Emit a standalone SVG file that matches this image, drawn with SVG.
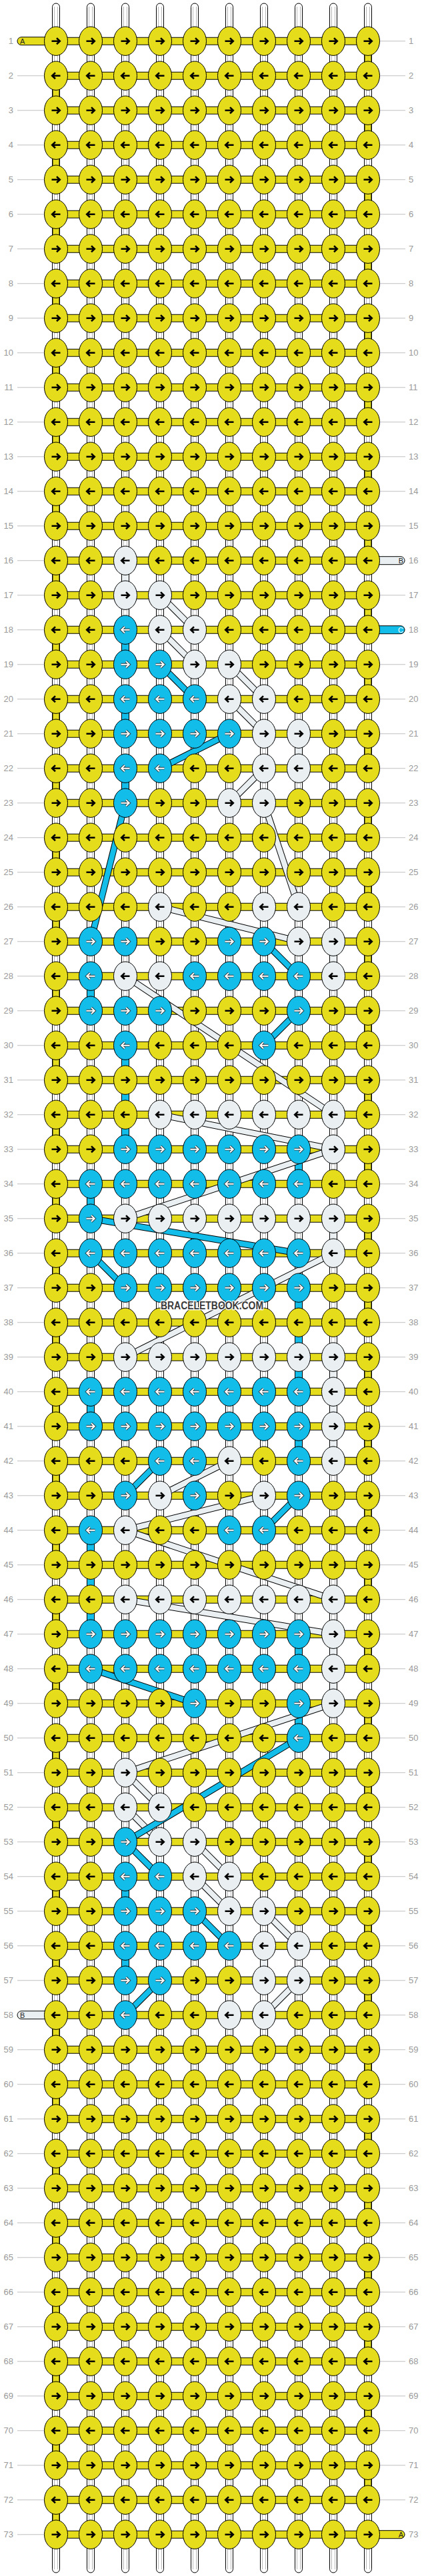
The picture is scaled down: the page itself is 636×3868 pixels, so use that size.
<svg xmlns="http://www.w3.org/2000/svg" width="636" height="3868" viewBox="0 0 636 3868">
<style>
.ky{fill:#e5dc1b;stroke:#000;stroke-width:1}
.kw{fill:#eaf0f2;stroke:#000;stroke-width:1}
.kb{fill:#12bde9;stroke:#000;stroke-width:1}
.ad{stroke:#000;stroke-width:2.6}
.ao{stroke:#2a3a40;stroke-width:3.8}
.aw{stroke:#fff;stroke-width:2}
.wp{fill:#fff;stroke:#000;stroke-width:1}
.wl{fill:none;stroke:#b8b8b8;stroke-width:1}
.cb{fill:#12bde9;stroke:#000;stroke-width:1}
.cw{fill:#eaf0f2;stroke:#000;stroke-width:1}
.do{stroke:#000;stroke-width:10}
.db{stroke:#12bde9;stroke-width:8}
.dw{stroke:#eaf0f2;stroke-width:8}
.n{font-family:"Liberation Sans",Arial,sans-serif;font-size:13px;fill:#9a9a9a}
.nl{text-anchor:end}
.t{font-family:"Liberation Sans",Arial,sans-serif;font-size:11px;fill:#222}
</style>
<defs>
<path id="ar" fill="none" d="M-6.5,0H5.5M1,-4.6L5.8,0L1,4.6"/>
<path id="al" fill="none" d="M6.5,0H-5.5M-1,-4.6L-5.8,0L-1,4.6"/>
<g id="YR"><ellipse class="ky" rx="17.5" ry="21.7"/><use href="#ar" class="ad"/></g>
<g id="YL"><ellipse class="ky" rx="17.5" ry="21.7"/><use href="#al" class="ad"/></g>
<g id="WR"><ellipse class="kw" rx="17.5" ry="21.7"/><use href="#ar" class="ad"/></g>
<g id="WL"><ellipse class="kw" rx="17.5" ry="21.7"/><use href="#al" class="ad"/></g>
<g id="BR"><ellipse class="kb" rx="17.5" ry="21.7"/><use href="#ar" class="ao"/><use href="#ar" class="aw"/></g>
<g id="BL"><ellipse class="kb" rx="17.5" ry="21.7"/><use href="#al" class="ao"/><use href="#al" class="aw"/></g>
<rect id="vb" class="cb" x="-5.5" y="15" width="11" height="22"/>
<rect id="vw" class="cw" x="-5.5" y="15" width="11" height="22"/>
</defs>
<rect width="636" height="3868" fill="#fff"/>
<g id="warps">
<rect class="wp" x="78.5" y="5" width="11" height="3858" rx="5.5"/>
<rect class="wp" x="130.5" y="5" width="11" height="3858" rx="5.5"/>
<rect class="wp" x="182.5" y="5" width="11" height="3858" rx="5.5"/>
<rect class="wp" x="234.5" y="5" width="11" height="3858" rx="5.5"/>
<rect class="wp" x="286.5" y="5" width="11" height="3858" rx="5.5"/>
<rect class="wp" x="338.5" y="5" width="11" height="3858" rx="5.5"/>
<rect class="wp" x="390.5" y="5" width="11" height="3858" rx="5.5"/>
<rect class="wp" x="442.5" y="5" width="11" height="3858" rx="5.5"/>
<rect class="wp" x="494.5" y="5" width="11" height="3858" rx="5.5"/>
<rect class="wp" x="546.5" y="5" width="11" height="3858" rx="5.5"/>
<path class="wl" d="M81.5,10V3858M86.5,10V3858M133.5,10V3858M138.5,10V3858M185.5,10V3858M190.5,10V3858M237.5,10V3858M242.5,10V3858M289.5,10V3858M294.5,10V3858M341.5,10V3858M346.5,10V3858M393.5,10V3858M398.5,10V3858M445.5,10V3858M450.5,10V3858M497.5,10V3858M502.5,10V3858M549.5,10V3858M554.5,10V3858"/>
</g>
<g id="connectors">
<path d="M552,61.7V3753.7" fill="none" stroke="#000" stroke-width="11" stroke-dasharray="52 52"/>
<path d="M552,61.7V3753.7" fill="none" stroke="#e5dc1b" stroke-width="9" stroke-dasharray="52 52"/>
<path d="M84,113.7V3805.7" fill="none" stroke="#000" stroke-width="11" stroke-dasharray="52 52"/>
<path d="M84,113.7V3805.7" fill="none" stroke="#e5dc1b" stroke-width="9" stroke-dasharray="52 52"/>
<use href="#vw" x="188" y="841.7"/><use href="#vw" x="448" y="1101.7"/><use href="#vw" x="500" y="1413.7"/><use href="#vw" x="500" y="1829.7"/><use href="#vw" x="500" y="2037.7"/><use href="#vw" x="500" y="2089.7"/><use href="#vw" x="500" y="2141.7"/><use href="#vw" x="500" y="2453.7"/><use href="#vw" x="500" y="2505.7"/><use href="#vw" x="396" y="2921.7"/>
<use href="#vb" x="188" y="945.7"/><use href="#vb" x="188" y="1049.7"/><use href="#vb" x="188" y="1153.7"/><use href="#vb" x="136" y="1465.7"/><use href="#vb" x="188" y="1569.7"/><use href="#vb" x="188" y="1621.7"/><use href="#vb" x="188" y="1673.7"/><use href="#vb" x="448" y="1725.7"/><use href="#vb" x="136" y="1777.7"/><use href="#vb" x="448" y="1933.7"/><use href="#vb" x="448" y="1985.7"/><use href="#vb" x="448" y="2037.7"/><use href="#vb" x="136" y="2089.7"/><use href="#vb" x="448" y="2141.7"/><use href="#vb" x="136" y="2297.7"/><use href="#vb" x="136" y="2349.7"/><use href="#vb" x="136" y="2401.7"/><use href="#vb" x="448" y="2453.7"/><use href="#vb" x="448" y="2557.7"/><use href="#vb" x="188" y="2817.7"/><use href="#vb" x="188" y="2921.7"/>
<path d="M46.25,61.2V3806.2" fill="none" stroke="#c0c0c0" stroke-width="40.5" stroke-dasharray="1 51"/>
<path d="M588.75,61.2V3806.2" fill="none" stroke="#c0c0c0" stroke-width="38.5" stroke-dasharray="1 51"/>
<path d="M318,55.7V3812" fill="none" stroke="#000" stroke-width="468" stroke-dasharray="12 40"/>
<path d="M318,56.7V3812" fill="none" stroke="#e5dc1b" stroke-width="468" stroke-dasharray="10 42"/>
<path d="M70,55.7H32a6,6 0 0 0 0,12H70z" class="ky"/>
<path d="M70,3019.7H32a6,6 0 0 0 0,12H70z" class="kw"/>
<path d="M548,835.7H601a6,6 0 0 1 0,12H548z" class="kw"/>
<path d="M548,939.7H601a6,6 0 0 1 0,12H548z" class="kb"/>
<path d="M548,3799.7H601a6,6 0 0 1 0,12H548z" class="ky"/>
<g id="diagonals">
<line class="do" x1="240" y1="893.7" x2="292" y2="945.7"/><line class="dw" x1="240" y1="893.7" x2="292" y2="945.7"/>
<line class="do" x1="240" y1="945.7" x2="292" y2="997.7"/><line class="dw" x1="240" y1="945.7" x2="292" y2="997.7"/>
<line class="do" x1="344" y1="997.7" x2="396" y2="1049.7"/><line class="dw" x1="344" y1="997.7" x2="396" y2="1049.7"/>
<line class="do" x1="344" y1="1049.7" x2="396" y2="1101.7"/><line class="dw" x1="344" y1="1049.7" x2="396" y2="1101.7"/>
<line class="do" x1="396" y1="1153.7" x2="344" y2="1205.7"/><line class="dw" x1="396" y1="1153.7" x2="344" y2="1205.7"/>
<line class="do" x1="396" y1="1205.7" x2="448" y2="1361.7"/><line class="dw" x1="396" y1="1205.7" x2="448" y2="1361.7"/>
<line class="do" x1="240" y1="1361.7" x2="448" y2="1413.7"/><line class="dw" x1="240" y1="1361.7" x2="448" y2="1413.7"/>
<line class="do" x1="188" y1="1465.7" x2="500" y2="1673.7"/><line class="dw" x1="188" y1="1465.7" x2="500" y2="1673.7"/>
<line class="do" x1="240" y1="1673.7" x2="500" y2="1725.7"/><line class="dw" x1="240" y1="1673.7" x2="500" y2="1725.7"/>
<line class="do" x1="500" y1="1725.7" x2="188" y2="1829.7"/><line class="dw" x1="500" y1="1725.7" x2="188" y2="1829.7"/>
<line class="do" x1="500" y1="1881.7" x2="188" y2="2037.7"/><line class="dw" x1="500" y1="1881.7" x2="188" y2="2037.7"/>
<line class="do" x1="344" y1="2193.7" x2="240" y2="2245.7"/><line class="dw" x1="344" y1="2193.7" x2="240" y2="2245.7"/>
<line class="do" x1="396" y1="2245.7" x2="188" y2="2297.7"/><line class="dw" x1="396" y1="2245.7" x2="188" y2="2297.7"/>
<line class="do" x1="188" y1="2297.7" x2="500" y2="2401.7"/><line class="dw" x1="188" y1="2297.7" x2="500" y2="2401.7"/>
<line class="do" x1="188" y1="2401.7" x2="500" y2="2453.7"/><line class="dw" x1="188" y1="2401.7" x2="500" y2="2453.7"/>
<line class="do" x1="500" y1="2557.7" x2="188" y2="2661.7"/><line class="dw" x1="500" y1="2557.7" x2="188" y2="2661.7"/>
<line class="do" x1="188" y1="2661.7" x2="240" y2="2713.7"/><line class="dw" x1="188" y1="2661.7" x2="240" y2="2713.7"/>
<line class="do" x1="188" y1="2713.7" x2="240" y2="2765.7"/><line class="dw" x1="188" y1="2713.7" x2="240" y2="2765.7"/>
<line class="do" x1="292" y1="2765.7" x2="344" y2="2817.7"/><line class="dw" x1="292" y1="2765.7" x2="344" y2="2817.7"/>
<line class="do" x1="292" y1="2817.7" x2="344" y2="2869.7"/><line class="dw" x1="292" y1="2817.7" x2="344" y2="2869.7"/>
<line class="do" x1="396" y1="2869.7" x2="448" y2="2921.7"/><line class="dw" x1="396" y1="2869.7" x2="448" y2="2921.7"/>
<line class="do" x1="448" y1="2973.7" x2="396" y2="3025.7"/><line class="dw" x1="448" y1="2973.7" x2="396" y2="3025.7"/>
<line class="do" x1="240" y1="997.7" x2="292" y2="1049.7"/><line class="db" x1="240" y1="997.7" x2="292" y2="1049.7"/>
<line class="do" x1="344" y1="1101.7" x2="240" y2="1153.7"/><line class="db" x1="344" y1="1101.7" x2="240" y2="1153.7"/>
<line class="do" x1="188" y1="1205.7" x2="136" y2="1413.7"/><line class="db" x1="188" y1="1205.7" x2="136" y2="1413.7"/>
<line class="do" x1="396" y1="1413.7" x2="448" y2="1465.7"/><line class="db" x1="396" y1="1413.7" x2="448" y2="1465.7"/>
<line class="do" x1="448" y1="1517.7" x2="396" y2="1569.7"/><line class="db" x1="448" y1="1517.7" x2="396" y2="1569.7"/>
<line class="do" x1="136" y1="1829.7" x2="448" y2="1881.7"/><line class="db" x1="136" y1="1829.7" x2="448" y2="1881.7"/>
<line class="do" x1="136" y1="1881.7" x2="188" y2="1933.7"/><line class="db" x1="136" y1="1881.7" x2="188" y2="1933.7"/>
<line class="do" x1="240" y1="2193.7" x2="188" y2="2245.7"/><line class="db" x1="240" y1="2193.7" x2="188" y2="2245.7"/>
<line class="do" x1="448" y1="2245.7" x2="396" y2="2297.7"/><line class="db" x1="448" y1="2245.7" x2="396" y2="2297.7"/>
<line class="do" x1="136" y1="2505.7" x2="292" y2="2557.7"/><line class="db" x1="136" y1="2505.7" x2="292" y2="2557.7"/>
<line class="do" x1="448" y1="2609.7" x2="188" y2="2765.7"/><line class="db" x1="448" y1="2609.7" x2="188" y2="2765.7"/>
<line class="do" x1="188" y1="2765.7" x2="240" y2="2817.7"/><line class="db" x1="188" y1="2765.7" x2="240" y2="2817.7"/>
<line class="do" x1="292" y1="2869.7" x2="344" y2="2921.7"/><line class="db" x1="292" y1="2869.7" x2="344" y2="2921.7"/>
<line class="do" x1="240" y1="2973.7" x2="188" y2="3025.7"/><line class="db" x1="240" y1="2973.7" x2="188" y2="3025.7"/>
</g>
</g>
<g id="knots">
<g id="r1" transform="translate(0,61.7)"><use id="k1_1" href="#YR" x="84"/><use id="k1_2" href="#YR" x="136"/><use id="k1_3" href="#YR" x="188"/><use id="k1_4" href="#YR" x="240"/><use id="k1_5" href="#YR" x="292"/><use id="k1_6" href="#YR" x="344"/><use id="k1_7" href="#YR" x="396"/><use id="k1_8" href="#YR" x="448"/><use id="k1_9" href="#YR" x="500"/><use id="k1_10" href="#YR" x="552"/><text class="n nl" x="20" y="4.5">1</text><text class="n" x="613" y="4.5">1</text></g>
<g id="r2" transform="translate(0,113.7)"><use id="k2_1" href="#YL" x="84"/><use id="k2_2" href="#YL" x="136"/><use id="k2_3" href="#YL" x="188"/><use id="k2_4" href="#YL" x="240"/><use id="k2_5" href="#YL" x="292"/><use id="k2_6" href="#YL" x="344"/><use id="k2_7" href="#YL" x="396"/><use id="k2_8" href="#YL" x="448"/><use id="k2_9" href="#YL" x="500"/><use id="k2_10" href="#YL" x="552"/><text class="n nl" x="20" y="4.5">2</text><text class="n" x="613" y="4.5">2</text></g>
<g id="r3" transform="translate(0,165.7)"><use id="k3_1" href="#YR" x="84"/><use id="k3_2" href="#YR" x="136"/><use id="k3_3" href="#YR" x="188"/><use id="k3_4" href="#YR" x="240"/><use id="k3_5" href="#YR" x="292"/><use id="k3_6" href="#YR" x="344"/><use id="k3_7" href="#YR" x="396"/><use id="k3_8" href="#YR" x="448"/><use id="k3_9" href="#YR" x="500"/><use id="k3_10" href="#YR" x="552"/><text class="n nl" x="20" y="4.5">3</text><text class="n" x="613" y="4.5">3</text></g>
<g id="r4" transform="translate(0,217.7)"><use id="k4_1" href="#YL" x="84"/><use id="k4_2" href="#YL" x="136"/><use id="k4_3" href="#YL" x="188"/><use id="k4_4" href="#YL" x="240"/><use id="k4_5" href="#YL" x="292"/><use id="k4_6" href="#YL" x="344"/><use id="k4_7" href="#YL" x="396"/><use id="k4_8" href="#YL" x="448"/><use id="k4_9" href="#YL" x="500"/><use id="k4_10" href="#YL" x="552"/><text class="n nl" x="20" y="4.5">4</text><text class="n" x="613" y="4.5">4</text></g>
<g id="r5" transform="translate(0,269.7)"><use id="k5_1" href="#YR" x="84"/><use id="k5_2" href="#YR" x="136"/><use id="k5_3" href="#YR" x="188"/><use id="k5_4" href="#YR" x="240"/><use id="k5_5" href="#YR" x="292"/><use id="k5_6" href="#YR" x="344"/><use id="k5_7" href="#YR" x="396"/><use id="k5_8" href="#YR" x="448"/><use id="k5_9" href="#YR" x="500"/><use id="k5_10" href="#YR" x="552"/><text class="n nl" x="20" y="4.5">5</text><text class="n" x="613" y="4.5">5</text></g>
<g id="r6" transform="translate(0,321.7)"><use id="k6_1" href="#YL" x="84"/><use id="k6_2" href="#YL" x="136"/><use id="k6_3" href="#YL" x="188"/><use id="k6_4" href="#YL" x="240"/><use id="k6_5" href="#YL" x="292"/><use id="k6_6" href="#YL" x="344"/><use id="k6_7" href="#YL" x="396"/><use id="k6_8" href="#YL" x="448"/><use id="k6_9" href="#YL" x="500"/><use id="k6_10" href="#YL" x="552"/><text class="n nl" x="20" y="4.5">6</text><text class="n" x="613" y="4.5">6</text></g>
<g id="r7" transform="translate(0,373.7)"><use id="k7_1" href="#YR" x="84"/><use id="k7_2" href="#YR" x="136"/><use id="k7_3" href="#YR" x="188"/><use id="k7_4" href="#YR" x="240"/><use id="k7_5" href="#YR" x="292"/><use id="k7_6" href="#YR" x="344"/><use id="k7_7" href="#YR" x="396"/><use id="k7_8" href="#YR" x="448"/><use id="k7_9" href="#YR" x="500"/><use id="k7_10" href="#YR" x="552"/><text class="n nl" x="20" y="4.5">7</text><text class="n" x="613" y="4.5">7</text></g>
<g id="r8" transform="translate(0,425.7)"><use id="k8_1" href="#YL" x="84"/><use id="k8_2" href="#YL" x="136"/><use id="k8_3" href="#YL" x="188"/><use id="k8_4" href="#YL" x="240"/><use id="k8_5" href="#YL" x="292"/><use id="k8_6" href="#YL" x="344"/><use id="k8_7" href="#YL" x="396"/><use id="k8_8" href="#YL" x="448"/><use id="k8_9" href="#YL" x="500"/><use id="k8_10" href="#YL" x="552"/><text class="n nl" x="20" y="4.5">8</text><text class="n" x="613" y="4.5">8</text></g>
<g id="r9" transform="translate(0,477.7)"><use id="k9_1" href="#YR" x="84"/><use id="k9_2" href="#YR" x="136"/><use id="k9_3" href="#YR" x="188"/><use id="k9_4" href="#YR" x="240"/><use id="k9_5" href="#YR" x="292"/><use id="k9_6" href="#YR" x="344"/><use id="k9_7" href="#YR" x="396"/><use id="k9_8" href="#YR" x="448"/><use id="k9_9" href="#YR" x="500"/><use id="k9_10" href="#YR" x="552"/><text class="n nl" x="20" y="4.5">9</text><text class="n" x="613" y="4.5">9</text></g>
<g id="r10" transform="translate(0,529.7)"><use id="k10_1" href="#YL" x="84"/><use id="k10_2" href="#YL" x="136"/><use id="k10_3" href="#YL" x="188"/><use id="k10_4" href="#YL" x="240"/><use id="k10_5" href="#YL" x="292"/><use id="k10_6" href="#YL" x="344"/><use id="k10_7" href="#YL" x="396"/><use id="k10_8" href="#YL" x="448"/><use id="k10_9" href="#YL" x="500"/><use id="k10_10" href="#YL" x="552"/><text class="n nl" x="20" y="4.5">10</text><text class="n" x="613" y="4.5">10</text></g>
<g id="r11" transform="translate(0,581.7)"><use id="k11_1" href="#YR" x="84"/><use id="k11_2" href="#YR" x="136"/><use id="k11_3" href="#YR" x="188"/><use id="k11_4" href="#YR" x="240"/><use id="k11_5" href="#YR" x="292"/><use id="k11_6" href="#YR" x="344"/><use id="k11_7" href="#YR" x="396"/><use id="k11_8" href="#YR" x="448"/><use id="k11_9" href="#YR" x="500"/><use id="k11_10" href="#YR" x="552"/><text class="n nl" x="20" y="4.5">11</text><text class="n" x="613" y="4.5">11</text></g>
<g id="r12" transform="translate(0,633.7)"><use id="k12_1" href="#YL" x="84"/><use id="k12_2" href="#YL" x="136"/><use id="k12_3" href="#YL" x="188"/><use id="k12_4" href="#YL" x="240"/><use id="k12_5" href="#YL" x="292"/><use id="k12_6" href="#YL" x="344"/><use id="k12_7" href="#YL" x="396"/><use id="k12_8" href="#YL" x="448"/><use id="k12_9" href="#YL" x="500"/><use id="k12_10" href="#YL" x="552"/><text class="n nl" x="20" y="4.5">12</text><text class="n" x="613" y="4.5">12</text></g>
<g id="r13" transform="translate(0,685.7)"><use id="k13_1" href="#YR" x="84"/><use id="k13_2" href="#YR" x="136"/><use id="k13_3" href="#YR" x="188"/><use id="k13_4" href="#YR" x="240"/><use id="k13_5" href="#YR" x="292"/><use id="k13_6" href="#YR" x="344"/><use id="k13_7" href="#YR" x="396"/><use id="k13_8" href="#YR" x="448"/><use id="k13_9" href="#YR" x="500"/><use id="k13_10" href="#YR" x="552"/><text class="n nl" x="20" y="4.5">13</text><text class="n" x="613" y="4.5">13</text></g>
<g id="r14" transform="translate(0,737.7)"><use id="k14_1" href="#YL" x="84"/><use id="k14_2" href="#YL" x="136"/><use id="k14_3" href="#YL" x="188"/><use id="k14_4" href="#YL" x="240"/><use id="k14_5" href="#YL" x="292"/><use id="k14_6" href="#YL" x="344"/><use id="k14_7" href="#YL" x="396"/><use id="k14_8" href="#YL" x="448"/><use id="k14_9" href="#YL" x="500"/><use id="k14_10" href="#YL" x="552"/><text class="n nl" x="20" y="4.5">14</text><text class="n" x="613" y="4.5">14</text></g>
<g id="r15" transform="translate(0,789.7)"><use id="k15_1" href="#YR" x="84"/><use id="k15_2" href="#YR" x="136"/><use id="k15_3" href="#YR" x="188"/><use id="k15_4" href="#YR" x="240"/><use id="k15_5" href="#YR" x="292"/><use id="k15_6" href="#YR" x="344"/><use id="k15_7" href="#YR" x="396"/><use id="k15_8" href="#YR" x="448"/><use id="k15_9" href="#YR" x="500"/><use id="k15_10" href="#YR" x="552"/><text class="n nl" x="20" y="4.5">15</text><text class="n" x="613" y="4.5">15</text></g>
<g id="r16" transform="translate(0,841.7)"><use id="k16_1" href="#YL" x="84"/><use id="k16_2" href="#YL" x="136"/><use id="k16_3" href="#WL" x="188"/><use id="k16_4" href="#YL" x="240"/><use id="k16_5" href="#YL" x="292"/><use id="k16_6" href="#YL" x="344"/><use id="k16_7" href="#YL" x="396"/><use id="k16_8" href="#YL" x="448"/><use id="k16_9" href="#YL" x="500"/><use id="k16_10" href="#YL" x="552"/><text class="n nl" x="20" y="4.5">16</text><text class="n" x="613" y="4.5">16</text></g>
<g id="r17" transform="translate(0,893.7)"><use id="k17_1" href="#YR" x="84"/><use id="k17_2" href="#YR" x="136"/><use id="k17_3" href="#WR" x="188"/><use id="k17_4" href="#WR" x="240"/><use id="k17_5" href="#YR" x="292"/><use id="k17_6" href="#YR" x="344"/><use id="k17_7" href="#YR" x="396"/><use id="k17_8" href="#YR" x="448"/><use id="k17_9" href="#YR" x="500"/><use id="k17_10" href="#YR" x="552"/><text class="n nl" x="20" y="4.5">17</text><text class="n" x="613" y="4.5">17</text></g>
<g id="r18" transform="translate(0,945.7)"><use id="k18_1" href="#YL" x="84"/><use id="k18_2" href="#YL" x="136"/><use id="k18_3" href="#BL" x="188"/><use id="k18_4" href="#WL" x="240"/><use id="k18_5" href="#WL" x="292"/><use id="k18_6" href="#YL" x="344"/><use id="k18_7" href="#YL" x="396"/><use id="k18_8" href="#YL" x="448"/><use id="k18_9" href="#YL" x="500"/><use id="k18_10" href="#YL" x="552"/><text class="n nl" x="20" y="4.5">18</text><text class="n" x="613" y="4.5">18</text></g>
<g id="r19" transform="translate(0,997.7)"><use id="k19_1" href="#YR" x="84"/><use id="k19_2" href="#YR" x="136"/><use id="k19_3" href="#BR" x="188"/><use id="k19_4" href="#BR" x="240"/><use id="k19_5" href="#WR" x="292"/><use id="k19_6" href="#WR" x="344"/><use id="k19_7" href="#YR" x="396"/><use id="k19_8" href="#YR" x="448"/><use id="k19_9" href="#YR" x="500"/><use id="k19_10" href="#YR" x="552"/><text class="n nl" x="20" y="4.5">19</text><text class="n" x="613" y="4.5">19</text></g>
<g id="r20" transform="translate(0,1049.7)"><use id="k20_1" href="#YL" x="84"/><use id="k20_2" href="#YL" x="136"/><use id="k20_3" href="#BL" x="188"/><use id="k20_4" href="#BL" x="240"/><use id="k20_5" href="#BL" x="292"/><use id="k20_6" href="#WL" x="344"/><use id="k20_7" href="#WL" x="396"/><use id="k20_8" href="#YL" x="448"/><use id="k20_9" href="#YL" x="500"/><use id="k20_10" href="#YL" x="552"/><text class="n nl" x="20" y="4.5">20</text><text class="n" x="613" y="4.5">20</text></g>
<g id="r21" transform="translate(0,1101.7)"><use id="k21_1" href="#YR" x="84"/><use id="k21_2" href="#YR" x="136"/><use id="k21_3" href="#BR" x="188"/><use id="k21_4" href="#BR" x="240"/><use id="k21_5" href="#BR" x="292"/><use id="k21_6" href="#BR" x="344"/><use id="k21_7" href="#WR" x="396"/><use id="k21_8" href="#WR" x="448"/><use id="k21_9" href="#YR" x="500"/><use id="k21_10" href="#YR" x="552"/><text class="n nl" x="20" y="4.5">21</text><text class="n" x="613" y="4.5">21</text></g>
<g id="r22" transform="translate(0,1153.7)"><use id="k22_1" href="#YL" x="84"/><use id="k22_2" href="#YL" x="136"/><use id="k22_3" href="#BL" x="188"/><use id="k22_4" href="#BL" x="240"/><use id="k22_5" href="#YL" x="292"/><use id="k22_6" href="#YL" x="344"/><use id="k22_7" href="#WL" x="396"/><use id="k22_8" href="#WL" x="448"/><use id="k22_9" href="#YL" x="500"/><use id="k22_10" href="#YL" x="552"/><text class="n nl" x="20" y="4.5">22</text><text class="n" x="613" y="4.5">22</text></g>
<g id="r23" transform="translate(0,1205.7)"><use id="k23_1" href="#YR" x="84"/><use id="k23_2" href="#YR" x="136"/><use id="k23_3" href="#BR" x="188"/><use id="k23_4" href="#YR" x="240"/><use id="k23_5" href="#YR" x="292"/><use id="k23_6" href="#WR" x="344"/><use id="k23_7" href="#WR" x="396"/><use id="k23_8" href="#YR" x="448"/><use id="k23_9" href="#YR" x="500"/><use id="k23_10" href="#YR" x="552"/><text class="n nl" x="20" y="4.5">23</text><text class="n" x="613" y="4.5">23</text></g>
<g id="r24" transform="translate(0,1257.7)"><use id="k24_1" href="#YL" x="84"/><use id="k24_2" href="#YL" x="136"/><use id="k24_3" href="#YL" x="188"/><use id="k24_4" href="#YL" x="240"/><use id="k24_5" href="#YL" x="292"/><use id="k24_6" href="#YL" x="344"/><use id="k24_7" href="#YL" x="396"/><use id="k24_8" href="#YL" x="448"/><use id="k24_9" href="#YL" x="500"/><use id="k24_10" href="#YL" x="552"/><text class="n nl" x="20" y="4.5">24</text><text class="n" x="613" y="4.5">24</text></g>
<g id="r25" transform="translate(0,1309.7)"><use id="k25_1" href="#YR" x="84"/><use id="k25_2" href="#YR" x="136"/><use id="k25_3" href="#YR" x="188"/><use id="k25_4" href="#YR" x="240"/><use id="k25_5" href="#YR" x="292"/><use id="k25_6" href="#YR" x="344"/><use id="k25_7" href="#YR" x="396"/><use id="k25_8" href="#YR" x="448"/><use id="k25_9" href="#YR" x="500"/><use id="k25_10" href="#YR" x="552"/><text class="n nl" x="20" y="4.5">25</text><text class="n" x="613" y="4.5">25</text></g>
<g id="r26" transform="translate(0,1361.7)"><use id="k26_1" href="#YL" x="84"/><use id="k26_2" href="#YL" x="136"/><use id="k26_3" href="#YL" x="188"/><use id="k26_4" href="#WL" x="240"/><use id="k26_5" href="#YL" x="292"/><use id="k26_6" href="#YL" x="344"/><use id="k26_7" href="#WL" x="396"/><use id="k26_8" href="#WL" x="448"/><use id="k26_9" href="#YL" x="500"/><use id="k26_10" href="#YL" x="552"/><text class="n nl" x="20" y="4.5">26</text><text class="n" x="613" y="4.5">26</text></g>
<g id="r27" transform="translate(0,1413.7)"><use id="k27_1" href="#YR" x="84"/><use id="k27_2" href="#BR" x="136"/><use id="k27_3" href="#BR" x="188"/><use id="k27_4" href="#YR" x="240"/><use id="k27_5" href="#YR" x="292"/><use id="k27_6" href="#BR" x="344"/><use id="k27_7" href="#BR" x="396"/><use id="k27_8" href="#WR" x="448"/><use id="k27_9" href="#WR" x="500"/><use id="k27_10" href="#YR" x="552"/><text class="n nl" x="20" y="4.5">27</text><text class="n" x="613" y="4.5">27</text></g>
<g id="r28" transform="translate(0,1465.7)"><use id="k28_1" href="#YL" x="84"/><use id="k28_2" href="#BL" x="136"/><use id="k28_3" href="#WL" x="188"/><use id="k28_4" href="#WL" x="240"/><use id="k28_5" href="#BL" x="292"/><use id="k28_6" href="#BL" x="344"/><use id="k28_7" href="#BL" x="396"/><use id="k28_8" href="#BL" x="448"/><use id="k28_9" href="#WL" x="500"/><use id="k28_10" href="#YL" x="552"/><text class="n nl" x="20" y="4.5">28</text><text class="n" x="613" y="4.5">28</text></g>
<g id="r29" transform="translate(0,1517.7)"><use id="k29_1" href="#YR" x="84"/><use id="k29_2" href="#BR" x="136"/><use id="k29_3" href="#BR" x="188"/><use id="k29_4" href="#BR" x="240"/><use id="k29_5" href="#YR" x="292"/><use id="k29_6" href="#YR" x="344"/><use id="k29_7" href="#YR" x="396"/><use id="k29_8" href="#BR" x="448"/><use id="k29_9" href="#YR" x="500"/><use id="k29_10" href="#YR" x="552"/><text class="n nl" x="20" y="4.5">29</text><text class="n" x="613" y="4.5">29</text></g>
<g id="r30" transform="translate(0,1569.7)"><use id="k30_1" href="#YL" x="84"/><use id="k30_2" href="#YL" x="136"/><use id="k30_3" href="#BL" x="188"/><use id="k30_4" href="#YL" x="240"/><use id="k30_5" href="#YL" x="292"/><use id="k30_6" href="#YL" x="344"/><use id="k30_7" href="#BL" x="396"/><use id="k30_8" href="#YL" x="448"/><use id="k30_9" href="#YL" x="500"/><use id="k30_10" href="#YL" x="552"/><text class="n nl" x="20" y="4.5">30</text><text class="n" x="613" y="4.5">30</text></g>
<g id="r31" transform="translate(0,1621.7)"><use id="k31_1" href="#YR" x="84"/><use id="k31_2" href="#YR" x="136"/><use id="k31_3" href="#YR" x="188"/><use id="k31_4" href="#YR" x="240"/><use id="k31_5" href="#YR" x="292"/><use id="k31_6" href="#YR" x="344"/><use id="k31_7" href="#YR" x="396"/><use id="k31_8" href="#YR" x="448"/><use id="k31_9" href="#YR" x="500"/><use id="k31_10" href="#YR" x="552"/><text class="n nl" x="20" y="4.5">31</text><text class="n" x="613" y="4.5">31</text></g>
<g id="r32" transform="translate(0,1673.7)"><use id="k32_1" href="#YL" x="84"/><use id="k32_2" href="#YL" x="136"/><use id="k32_3" href="#YL" x="188"/><use id="k32_4" href="#WL" x="240"/><use id="k32_5" href="#WL" x="292"/><use id="k32_6" href="#WL" x="344"/><use id="k32_7" href="#WL" x="396"/><use id="k32_8" href="#WL" x="448"/><use id="k32_9" href="#WL" x="500"/><use id="k32_10" href="#YL" x="552"/><text class="n nl" x="20" y="4.5">32</text><text class="n" x="613" y="4.5">32</text></g>
<g id="r33" transform="translate(0,1725.7)"><use id="k33_1" href="#YR" x="84"/><use id="k33_2" href="#YR" x="136"/><use id="k33_3" href="#BR" x="188"/><use id="k33_4" href="#BR" x="240"/><use id="k33_5" href="#BR" x="292"/><use id="k33_6" href="#BR" x="344"/><use id="k33_7" href="#BR" x="396"/><use id="k33_8" href="#BR" x="448"/><use id="k33_9" href="#WR" x="500"/><use id="k33_10" href="#YR" x="552"/><text class="n nl" x="20" y="4.5">33</text><text class="n" x="613" y="4.5">33</text></g>
<g id="r34" transform="translate(0,1777.7)"><use id="k34_1" href="#YL" x="84"/><use id="k34_2" href="#BL" x="136"/><use id="k34_3" href="#BL" x="188"/><use id="k34_4" href="#BL" x="240"/><use id="k34_5" href="#BL" x="292"/><use id="k34_6" href="#BL" x="344"/><use id="k34_7" href="#BL" x="396"/><use id="k34_8" href="#BL" x="448"/><use id="k34_9" href="#YL" x="500"/><use id="k34_10" href="#YL" x="552"/><text class="n nl" x="20" y="4.5">34</text><text class="n" x="613" y="4.5">34</text></g>
<g id="r35" transform="translate(0,1829.7)"><use id="k35_1" href="#YR" x="84"/><use id="k35_2" href="#BR" x="136"/><use id="k35_3" href="#WR" x="188"/><use id="k35_4" href="#WR" x="240"/><use id="k35_5" href="#WR" x="292"/><use id="k35_6" href="#WR" x="344"/><use id="k35_7" href="#WR" x="396"/><use id="k35_8" href="#WR" x="448"/><use id="k35_9" href="#WR" x="500"/><use id="k35_10" href="#YR" x="552"/><text class="n nl" x="20" y="4.5">35</text><text class="n" x="613" y="4.5">35</text></g>
<g id="r36" transform="translate(0,1881.7)"><use id="k36_1" href="#YL" x="84"/><use id="k36_2" href="#BL" x="136"/><use id="k36_3" href="#BL" x="188"/><use id="k36_4" href="#BL" x="240"/><use id="k36_5" href="#BL" x="292"/><use id="k36_6" href="#BL" x="344"/><use id="k36_7" href="#BL" x="396"/><use id="k36_8" href="#BL" x="448"/><use id="k36_9" href="#WL" x="500"/><use id="k36_10" href="#YL" x="552"/><text class="n nl" x="20" y="4.5">36</text><text class="n" x="613" y="4.5">36</text></g>
<g id="r37" transform="translate(0,1933.7)"><use id="k37_1" href="#YR" x="84"/><use id="k37_2" href="#YR" x="136"/><use id="k37_3" href="#BR" x="188"/><use id="k37_4" href="#BR" x="240"/><use id="k37_5" href="#BR" x="292"/><use id="k37_6" href="#BR" x="344"/><use id="k37_7" href="#BR" x="396"/><use id="k37_8" href="#BR" x="448"/><use id="k37_9" href="#YR" x="500"/><use id="k37_10" href="#YR" x="552"/><text class="n nl" x="20" y="4.5">37</text><text class="n" x="613" y="4.5">37</text></g>
<g id="r38" transform="translate(0,1985.7)"><use id="k38_1" href="#YL" x="84"/><use id="k38_2" href="#YL" x="136"/><use id="k38_3" href="#YL" x="188"/><use id="k38_4" href="#YL" x="240"/><use id="k38_5" href="#YL" x="292"/><use id="k38_6" href="#YL" x="344"/><use id="k38_7" href="#YL" x="396"/><use id="k38_8" href="#YL" x="448"/><use id="k38_9" href="#YL" x="500"/><use id="k38_10" href="#YL" x="552"/><text class="n nl" x="20" y="4.5">38</text><text class="n" x="613" y="4.5">38</text></g>
<g id="r39" transform="translate(0,2037.7)"><use id="k39_1" href="#YR" x="84"/><use id="k39_2" href="#YR" x="136"/><use id="k39_3" href="#WR" x="188"/><use id="k39_4" href="#WR" x="240"/><use id="k39_5" href="#WR" x="292"/><use id="k39_6" href="#WR" x="344"/><use id="k39_7" href="#WR" x="396"/><use id="k39_8" href="#WR" x="448"/><use id="k39_9" href="#WR" x="500"/><use id="k39_10" href="#YR" x="552"/><text class="n nl" x="20" y="4.5">39</text><text class="n" x="613" y="4.5">39</text></g>
<g id="r40" transform="translate(0,2089.7)"><use id="k40_1" href="#YL" x="84"/><use id="k40_2" href="#BL" x="136"/><use id="k40_3" href="#BL" x="188"/><use id="k40_4" href="#BL" x="240"/><use id="k40_5" href="#BL" x="292"/><use id="k40_6" href="#BL" x="344"/><use id="k40_7" href="#BL" x="396"/><use id="k40_8" href="#BL" x="448"/><use id="k40_9" href="#WL" x="500"/><use id="k40_10" href="#YL" x="552"/><text class="n nl" x="20" y="4.5">40</text><text class="n" x="613" y="4.5">40</text></g>
<g id="r41" transform="translate(0,2141.7)"><use id="k41_1" href="#YR" x="84"/><use id="k41_2" href="#BR" x="136"/><use id="k41_3" href="#BR" x="188"/><use id="k41_4" href="#BR" x="240"/><use id="k41_5" href="#BR" x="292"/><use id="k41_6" href="#BR" x="344"/><use id="k41_7" href="#BR" x="396"/><use id="k41_8" href="#BR" x="448"/><use id="k41_9" href="#WR" x="500"/><use id="k41_10" href="#YR" x="552"/><text class="n nl" x="20" y="4.5">41</text><text class="n" x="613" y="4.5">41</text></g>
<g id="r42" transform="translate(0,2193.7)"><use id="k42_1" href="#YL" x="84"/><use id="k42_2" href="#YL" x="136"/><use id="k42_3" href="#YL" x="188"/><use id="k42_4" href="#BL" x="240"/><use id="k42_5" href="#BL" x="292"/><use id="k42_6" href="#WL" x="344"/><use id="k42_7" href="#YL" x="396"/><use id="k42_8" href="#BL" x="448"/><use id="k42_9" href="#WL" x="500"/><use id="k42_10" href="#YL" x="552"/><text class="n nl" x="20" y="4.5">42</text><text class="n" x="613" y="4.5">42</text></g>
<g id="r43" transform="translate(0,2245.7)"><use id="k43_1" href="#YR" x="84"/><use id="k43_2" href="#YR" x="136"/><use id="k43_3" href="#BR" x="188"/><use id="k43_4" href="#WR" x="240"/><use id="k43_5" href="#BR" x="292"/><use id="k43_6" href="#YR" x="344"/><use id="k43_7" href="#WR" x="396"/><use id="k43_8" href="#BR" x="448"/><use id="k43_9" href="#YR" x="500"/><use id="k43_10" href="#YR" x="552"/><text class="n nl" x="20" y="4.5">43</text><text class="n" x="613" y="4.5">43</text></g>
<g id="r44" transform="translate(0,2297.7)"><use id="k44_1" href="#YL" x="84"/><use id="k44_2" href="#BL" x="136"/><use id="k44_3" href="#WL" x="188"/><use id="k44_4" href="#YL" x="240"/><use id="k44_5" href="#YL" x="292"/><use id="k44_6" href="#BL" x="344"/><use id="k44_7" href="#BL" x="396"/><use id="k44_8" href="#YL" x="448"/><use id="k44_9" href="#YL" x="500"/><use id="k44_10" href="#YL" x="552"/><text class="n nl" x="20" y="4.5">44</text><text class="n" x="613" y="4.5">44</text></g>
<g id="r45" transform="translate(0,2349.7)"><use id="k45_1" href="#YR" x="84"/><use id="k45_2" href="#YR" x="136"/><use id="k45_3" href="#YR" x="188"/><use id="k45_4" href="#YR" x="240"/><use id="k45_5" href="#YR" x="292"/><use id="k45_6" href="#YR" x="344"/><use id="k45_7" href="#YR" x="396"/><use id="k45_8" href="#YR" x="448"/><use id="k45_9" href="#YR" x="500"/><use id="k45_10" href="#YR" x="552"/><text class="n nl" x="20" y="4.5">45</text><text class="n" x="613" y="4.5">45</text></g>
<g id="r46" transform="translate(0,2401.7)"><use id="k46_1" href="#YL" x="84"/><use id="k46_2" href="#YL" x="136"/><use id="k46_3" href="#WL" x="188"/><use id="k46_4" href="#WL" x="240"/><use id="k46_5" href="#WL" x="292"/><use id="k46_6" href="#WL" x="344"/><use id="k46_7" href="#WL" x="396"/><use id="k46_8" href="#WL" x="448"/><use id="k46_9" href="#WL" x="500"/><use id="k46_10" href="#YL" x="552"/><text class="n nl" x="20" y="4.5">46</text><text class="n" x="613" y="4.5">46</text></g>
<g id="r47" transform="translate(0,2453.7)"><use id="k47_1" href="#YR" x="84"/><use id="k47_2" href="#BR" x="136"/><use id="k47_3" href="#BR" x="188"/><use id="k47_4" href="#BR" x="240"/><use id="k47_5" href="#BR" x="292"/><use id="k47_6" href="#BR" x="344"/><use id="k47_7" href="#BR" x="396"/><use id="k47_8" href="#BR" x="448"/><use id="k47_9" href="#WR" x="500"/><use id="k47_10" href="#YR" x="552"/><text class="n nl" x="20" y="4.5">47</text><text class="n" x="613" y="4.5">47</text></g>
<g id="r48" transform="translate(0,2505.7)"><use id="k48_1" href="#YL" x="84"/><use id="k48_2" href="#BL" x="136"/><use id="k48_3" href="#BL" x="188"/><use id="k48_4" href="#BL" x="240"/><use id="k48_5" href="#BL" x="292"/><use id="k48_6" href="#BL" x="344"/><use id="k48_7" href="#BL" x="396"/><use id="k48_8" href="#BL" x="448"/><use id="k48_9" href="#WL" x="500"/><use id="k48_10" href="#YL" x="552"/><text class="n nl" x="20" y="4.5">48</text><text class="n" x="613" y="4.5">48</text></g>
<g id="r49" transform="translate(0,2557.7)"><use id="k49_1" href="#YR" x="84"/><use id="k49_2" href="#YR" x="136"/><use id="k49_3" href="#YR" x="188"/><use id="k49_4" href="#YR" x="240"/><use id="k49_5" href="#BR" x="292"/><use id="k49_6" href="#YR" x="344"/><use id="k49_7" href="#YR" x="396"/><use id="k49_8" href="#BR" x="448"/><use id="k49_9" href="#WR" x="500"/><use id="k49_10" href="#YR" x="552"/><text class="n nl" x="20" y="4.5">49</text><text class="n" x="613" y="4.5">49</text></g>
<g id="r50" transform="translate(0,2609.7)"><use id="k50_1" href="#YL" x="84"/><use id="k50_2" href="#YL" x="136"/><use id="k50_3" href="#YL" x="188"/><use id="k50_4" href="#YL" x="240"/><use id="k50_5" href="#YL" x="292"/><use id="k50_6" href="#YL" x="344"/><use id="k50_7" href="#YL" x="396"/><use id="k50_8" href="#BL" x="448"/><use id="k50_9" href="#YL" x="500"/><use id="k50_10" href="#YL" x="552"/><text class="n nl" x="20" y="4.5">50</text><text class="n" x="613" y="4.5">50</text></g>
<g id="r51" transform="translate(0,2661.7)"><use id="k51_1" href="#YR" x="84"/><use id="k51_2" href="#YR" x="136"/><use id="k51_3" href="#WR" x="188"/><use id="k51_4" href="#YR" x="240"/><use id="k51_5" href="#YR" x="292"/><use id="k51_6" href="#YR" x="344"/><use id="k51_7" href="#YR" x="396"/><use id="k51_8" href="#YR" x="448"/><use id="k51_9" href="#YR" x="500"/><use id="k51_10" href="#YR" x="552"/><text class="n nl" x="20" y="4.5">51</text><text class="n" x="613" y="4.5">51</text></g>
<g id="r52" transform="translate(0,2713.7)"><use id="k52_1" href="#YL" x="84"/><use id="k52_2" href="#YL" x="136"/><use id="k52_3" href="#WL" x="188"/><use id="k52_4" href="#WL" x="240"/><use id="k52_5" href="#YL" x="292"/><use id="k52_6" href="#YL" x="344"/><use id="k52_7" href="#YL" x="396"/><use id="k52_8" href="#YL" x="448"/><use id="k52_9" href="#YL" x="500"/><use id="k52_10" href="#YL" x="552"/><text class="n nl" x="20" y="4.5">52</text><text class="n" x="613" y="4.5">52</text></g>
<g id="r53" transform="translate(0,2765.7)"><use id="k53_1" href="#YR" x="84"/><use id="k53_2" href="#YR" x="136"/><use id="k53_3" href="#BR" x="188"/><use id="k53_4" href="#WR" x="240"/><use id="k53_5" href="#WR" x="292"/><use id="k53_6" href="#YR" x="344"/><use id="k53_7" href="#YR" x="396"/><use id="k53_8" href="#YR" x="448"/><use id="k53_9" href="#YR" x="500"/><use id="k53_10" href="#YR" x="552"/><text class="n nl" x="20" y="4.5">53</text><text class="n" x="613" y="4.5">53</text></g>
<g id="r54" transform="translate(0,2817.7)"><use id="k54_1" href="#YL" x="84"/><use id="k54_2" href="#YL" x="136"/><use id="k54_3" href="#BL" x="188"/><use id="k54_4" href="#BL" x="240"/><use id="k54_5" href="#WL" x="292"/><use id="k54_6" href="#WL" x="344"/><use id="k54_7" href="#YL" x="396"/><use id="k54_8" href="#YL" x="448"/><use id="k54_9" href="#YL" x="500"/><use id="k54_10" href="#YL" x="552"/><text class="n nl" x="20" y="4.5">54</text><text class="n" x="613" y="4.5">54</text></g>
<g id="r55" transform="translate(0,2869.7)"><use id="k55_1" href="#YR" x="84"/><use id="k55_2" href="#YR" x="136"/><use id="k55_3" href="#BR" x="188"/><use id="k55_4" href="#BR" x="240"/><use id="k55_5" href="#BR" x="292"/><use id="k55_6" href="#WR" x="344"/><use id="k55_7" href="#WR" x="396"/><use id="k55_8" href="#YR" x="448"/><use id="k55_9" href="#YR" x="500"/><use id="k55_10" href="#YR" x="552"/><text class="n nl" x="20" y="4.5">55</text><text class="n" x="613" y="4.5">55</text></g>
<g id="r56" transform="translate(0,2921.7)"><use id="k56_1" href="#YL" x="84"/><use id="k56_2" href="#YL" x="136"/><use id="k56_3" href="#BL" x="188"/><use id="k56_4" href="#BL" x="240"/><use id="k56_5" href="#BL" x="292"/><use id="k56_6" href="#BL" x="344"/><use id="k56_7" href="#WL" x="396"/><use id="k56_8" href="#WL" x="448"/><use id="k56_9" href="#YL" x="500"/><use id="k56_10" href="#YL" x="552"/><text class="n nl" x="20" y="4.5">56</text><text class="n" x="613" y="4.5">56</text></g>
<g id="r57" transform="translate(0,2973.7)"><use id="k57_1" href="#YR" x="84"/><use id="k57_2" href="#YR" x="136"/><use id="k57_3" href="#BR" x="188"/><use id="k57_4" href="#BR" x="240"/><use id="k57_5" href="#YR" x="292"/><use id="k57_6" href="#YR" x="344"/><use id="k57_7" href="#WR" x="396"/><use id="k57_8" href="#WR" x="448"/><use id="k57_9" href="#YR" x="500"/><use id="k57_10" href="#YR" x="552"/><text class="n nl" x="20" y="4.5">57</text><text class="n" x="613" y="4.5">57</text></g>
<g id="r58" transform="translate(0,3025.7)"><use id="k58_1" href="#YL" x="84"/><use id="k58_2" href="#YL" x="136"/><use id="k58_3" href="#BL" x="188"/><use id="k58_4" href="#YL" x="240"/><use id="k58_5" href="#YL" x="292"/><use id="k58_6" href="#WL" x="344"/><use id="k58_7" href="#WL" x="396"/><use id="k58_8" href="#YL" x="448"/><use id="k58_9" href="#YL" x="500"/><use id="k58_10" href="#YL" x="552"/><text class="n nl" x="20" y="4.5">58</text><text class="n" x="613" y="4.5">58</text></g>
<g id="r59" transform="translate(0,3077.7)"><use id="k59_1" href="#YR" x="84"/><use id="k59_2" href="#YR" x="136"/><use id="k59_3" href="#YR" x="188"/><use id="k59_4" href="#YR" x="240"/><use id="k59_5" href="#YR" x="292"/><use id="k59_6" href="#YR" x="344"/><use id="k59_7" href="#YR" x="396"/><use id="k59_8" href="#YR" x="448"/><use id="k59_9" href="#YR" x="500"/><use id="k59_10" href="#YR" x="552"/><text class="n nl" x="20" y="4.5">59</text><text class="n" x="613" y="4.5">59</text></g>
<g id="r60" transform="translate(0,3129.7)"><use id="k60_1" href="#YL" x="84"/><use id="k60_2" href="#YL" x="136"/><use id="k60_3" href="#YL" x="188"/><use id="k60_4" href="#YL" x="240"/><use id="k60_5" href="#YL" x="292"/><use id="k60_6" href="#YL" x="344"/><use id="k60_7" href="#YL" x="396"/><use id="k60_8" href="#YL" x="448"/><use id="k60_9" href="#YL" x="500"/><use id="k60_10" href="#YL" x="552"/><text class="n nl" x="20" y="4.5">60</text><text class="n" x="613" y="4.5">60</text></g>
<g id="r61" transform="translate(0,3181.7)"><use id="k61_1" href="#YR" x="84"/><use id="k61_2" href="#YR" x="136"/><use id="k61_3" href="#YR" x="188"/><use id="k61_4" href="#YR" x="240"/><use id="k61_5" href="#YR" x="292"/><use id="k61_6" href="#YR" x="344"/><use id="k61_7" href="#YR" x="396"/><use id="k61_8" href="#YR" x="448"/><use id="k61_9" href="#YR" x="500"/><use id="k61_10" href="#YR" x="552"/><text class="n nl" x="20" y="4.5">61</text><text class="n" x="613" y="4.5">61</text></g>
<g id="r62" transform="translate(0,3233.7)"><use id="k62_1" href="#YL" x="84"/><use id="k62_2" href="#YL" x="136"/><use id="k62_3" href="#YL" x="188"/><use id="k62_4" href="#YL" x="240"/><use id="k62_5" href="#YL" x="292"/><use id="k62_6" href="#YL" x="344"/><use id="k62_7" href="#YL" x="396"/><use id="k62_8" href="#YL" x="448"/><use id="k62_9" href="#YL" x="500"/><use id="k62_10" href="#YL" x="552"/><text class="n nl" x="20" y="4.5">62</text><text class="n" x="613" y="4.5">62</text></g>
<g id="r63" transform="translate(0,3285.7)"><use id="k63_1" href="#YR" x="84"/><use id="k63_2" href="#YR" x="136"/><use id="k63_3" href="#YR" x="188"/><use id="k63_4" href="#YR" x="240"/><use id="k63_5" href="#YR" x="292"/><use id="k63_6" href="#YR" x="344"/><use id="k63_7" href="#YR" x="396"/><use id="k63_8" href="#YR" x="448"/><use id="k63_9" href="#YR" x="500"/><use id="k63_10" href="#YR" x="552"/><text class="n nl" x="20" y="4.5">63</text><text class="n" x="613" y="4.5">63</text></g>
<g id="r64" transform="translate(0,3337.7)"><use id="k64_1" href="#YL" x="84"/><use id="k64_2" href="#YL" x="136"/><use id="k64_3" href="#YL" x="188"/><use id="k64_4" href="#YL" x="240"/><use id="k64_5" href="#YL" x="292"/><use id="k64_6" href="#YL" x="344"/><use id="k64_7" href="#YL" x="396"/><use id="k64_8" href="#YL" x="448"/><use id="k64_9" href="#YL" x="500"/><use id="k64_10" href="#YL" x="552"/><text class="n nl" x="20" y="4.5">64</text><text class="n" x="613" y="4.5">64</text></g>
<g id="r65" transform="translate(0,3389.7)"><use id="k65_1" href="#YR" x="84"/><use id="k65_2" href="#YR" x="136"/><use id="k65_3" href="#YR" x="188"/><use id="k65_4" href="#YR" x="240"/><use id="k65_5" href="#YR" x="292"/><use id="k65_6" href="#YR" x="344"/><use id="k65_7" href="#YR" x="396"/><use id="k65_8" href="#YR" x="448"/><use id="k65_9" href="#YR" x="500"/><use id="k65_10" href="#YR" x="552"/><text class="n nl" x="20" y="4.5">65</text><text class="n" x="613" y="4.5">65</text></g>
<g id="r66" transform="translate(0,3441.7)"><use id="k66_1" href="#YL" x="84"/><use id="k66_2" href="#YL" x="136"/><use id="k66_3" href="#YL" x="188"/><use id="k66_4" href="#YL" x="240"/><use id="k66_5" href="#YL" x="292"/><use id="k66_6" href="#YL" x="344"/><use id="k66_7" href="#YL" x="396"/><use id="k66_8" href="#YL" x="448"/><use id="k66_9" href="#YL" x="500"/><use id="k66_10" href="#YL" x="552"/><text class="n nl" x="20" y="4.5">66</text><text class="n" x="613" y="4.5">66</text></g>
<g id="r67" transform="translate(0,3493.7)"><use id="k67_1" href="#YR" x="84"/><use id="k67_2" href="#YR" x="136"/><use id="k67_3" href="#YR" x="188"/><use id="k67_4" href="#YR" x="240"/><use id="k67_5" href="#YR" x="292"/><use id="k67_6" href="#YR" x="344"/><use id="k67_7" href="#YR" x="396"/><use id="k67_8" href="#YR" x="448"/><use id="k67_9" href="#YR" x="500"/><use id="k67_10" href="#YR" x="552"/><text class="n nl" x="20" y="4.5">67</text><text class="n" x="613" y="4.5">67</text></g>
<g id="r68" transform="translate(0,3545.7)"><use id="k68_1" href="#YL" x="84"/><use id="k68_2" href="#YL" x="136"/><use id="k68_3" href="#YL" x="188"/><use id="k68_4" href="#YL" x="240"/><use id="k68_5" href="#YL" x="292"/><use id="k68_6" href="#YL" x="344"/><use id="k68_7" href="#YL" x="396"/><use id="k68_8" href="#YL" x="448"/><use id="k68_9" href="#YL" x="500"/><use id="k68_10" href="#YL" x="552"/><text class="n nl" x="20" y="4.5">68</text><text class="n" x="613" y="4.5">68</text></g>
<g id="r69" transform="translate(0,3597.7)"><use id="k69_1" href="#YR" x="84"/><use id="k69_2" href="#YR" x="136"/><use id="k69_3" href="#YR" x="188"/><use id="k69_4" href="#YR" x="240"/><use id="k69_5" href="#YR" x="292"/><use id="k69_6" href="#YR" x="344"/><use id="k69_7" href="#YR" x="396"/><use id="k69_8" href="#YR" x="448"/><use id="k69_9" href="#YR" x="500"/><use id="k69_10" href="#YR" x="552"/><text class="n nl" x="20" y="4.5">69</text><text class="n" x="613" y="4.5">69</text></g>
<g id="r70" transform="translate(0,3649.7)"><use id="k70_1" href="#YL" x="84"/><use id="k70_2" href="#YL" x="136"/><use id="k70_3" href="#YL" x="188"/><use id="k70_4" href="#YL" x="240"/><use id="k70_5" href="#YL" x="292"/><use id="k70_6" href="#YL" x="344"/><use id="k70_7" href="#YL" x="396"/><use id="k70_8" href="#YL" x="448"/><use id="k70_9" href="#YL" x="500"/><use id="k70_10" href="#YL" x="552"/><text class="n nl" x="20" y="4.5">70</text><text class="n" x="613" y="4.5">70</text></g>
<g id="r71" transform="translate(0,3701.7)"><use id="k71_1" href="#YR" x="84"/><use id="k71_2" href="#YR" x="136"/><use id="k71_3" href="#YR" x="188"/><use id="k71_4" href="#YR" x="240"/><use id="k71_5" href="#YR" x="292"/><use id="k71_6" href="#YR" x="344"/><use id="k71_7" href="#YR" x="396"/><use id="k71_8" href="#YR" x="448"/><use id="k71_9" href="#YR" x="500"/><use id="k71_10" href="#YR" x="552"/><text class="n nl" x="20" y="4.5">71</text><text class="n" x="613" y="4.5">71</text></g>
<g id="r72" transform="translate(0,3753.7)"><use id="k72_1" href="#YL" x="84"/><use id="k72_2" href="#YL" x="136"/><use id="k72_3" href="#YL" x="188"/><use id="k72_4" href="#YL" x="240"/><use id="k72_5" href="#YL" x="292"/><use id="k72_6" href="#YL" x="344"/><use id="k72_7" href="#YL" x="396"/><use id="k72_8" href="#YL" x="448"/><use id="k72_9" href="#YL" x="500"/><use id="k72_10" href="#YL" x="552"/><text class="n nl" x="20" y="4.5">72</text><text class="n" x="613" y="4.5">72</text></g>
<g id="r73" transform="translate(0,3805.7)"><use id="k73_1" href="#YR" x="84"/><use id="k73_2" href="#YR" x="136"/><use id="k73_3" href="#YR" x="188"/><use id="k73_4" href="#YR" x="240"/><use id="k73_5" href="#YR" x="292"/><use id="k73_6" href="#YR" x="344"/><use id="k73_7" href="#YR" x="396"/><use id="k73_8" href="#YR" x="448"/><use id="k73_9" href="#YR" x="500"/><use id="k73_10" href="#YR" x="552"/><text class="n nl" x="20" y="4.5">73</text><text class="n" x="613" y="4.5">73</text></g>
</g>
<g id="tablabels">
<text class="t" x="30" y="65.7">A</text>
<text class="t" x="30" y="3029.7">B</text>
<text class="t" x="605" y="845.7" text-anchor="end">B</text>
<text class="t" x="605" y="949.7" text-anchor="end" fill="#fff" style="fill:#fff">C</text>
<text class="t" x="605" y="3809.7" text-anchor="end">A</text>
</g>
<text x="318" y="1966" text-anchor="middle" font-family="'Liberation Sans',Arial,sans-serif" font-weight="bold" font-size="16" textLength="154" lengthAdjust="spacingAndGlyphs" fill="#3a3a3a" stroke="#fff" stroke-width="2.5" paint-order="stroke">BRACELETBOOK.COM</text>
</svg>
